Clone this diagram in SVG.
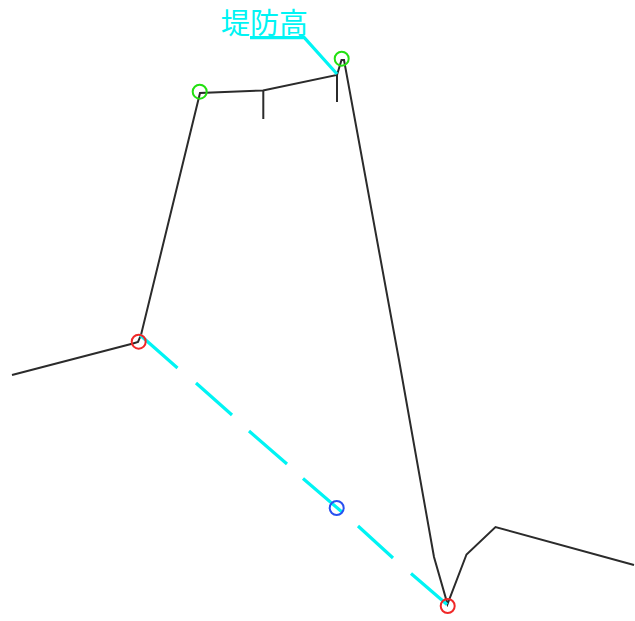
<svg xmlns="http://www.w3.org/2000/svg" width="635" height="621" viewBox="0 0 635 621">
<style>
.k{fill:none;stroke:#2b2b2b;stroke-width:2;stroke-linejoin:miter}
.c{fill:none;stroke:#00f4f4;stroke-width:3.200}
.m{fill:none;stroke-width:2}
text{font-family:"Noto Sans CJK JP","Noto Sans CJK SC",sans-serif;font-size:29px;fill:#00f4f4}
</style>
<rect width="635" height="621" fill="#fff"/>
<g id="connectors">
<path class="k" d="M12 375L133 343.500L138 342L141 335L200 93L263 90.500L337 75L341.500 60L344 60L399 360L434 557L447.500 604L466.500 554.500L495.500 527L634 565"/>
<path class="k" d="M263.300 90V119M337 75V102"/>
<path class="c" d="M140 335L177.500 368M196 383L232 415M249 431L287 464M303 478.500L342 512M358 526L393 558M411 573.500L447 604.500"/>
<path class="c" d="M250 37.700H304.300L337 74"/>
</g>
<g id="label"><text x="221" y="34">堤防高</text></g>
<g id="node-top-left"><circle class="m" cx="199.700" cy="91.700" r="7" stroke="#22e010"/></g>
<g id="node-top-right"><circle class="m" cx="341.700" cy="58.700" r="7" stroke="#22e010"/></g>
<g id="node-left"><circle class="m" cx="138.700" cy="341.700" r="7" stroke="#f02828"/></g>
<g id="node-bottom"><circle class="m" cx="447.700" cy="606" r="7" stroke="#f02828"/></g>
<g id="node-mid"><circle class="m" cx="336.700" cy="508" r="7" stroke="#2850f0"/></g>
</svg>
